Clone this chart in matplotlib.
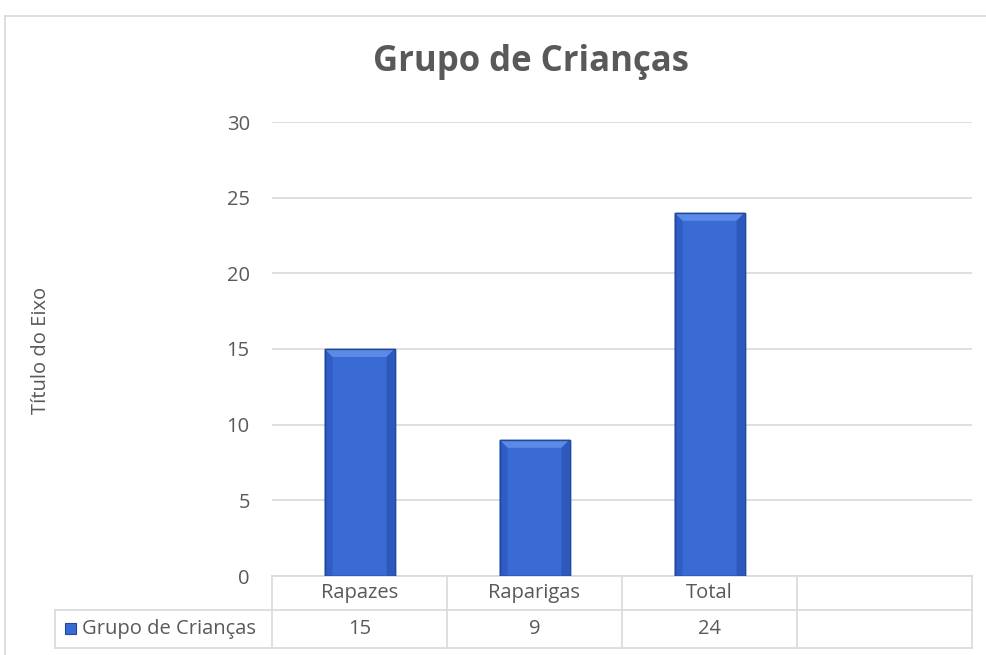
import matplotlib.pyplot as plt
from matplotlib.patches import Rectangle, Polygon
import matplotlib.transforms as mtransforms

categories = ['Rapazes', 'Raparigas', 'Total', '']
values = [15, 9, 24, None]
series_name = 'Grupo de Crianças'
title = 'Grupo de Crianças'
y_label = 'Título do Eixo'
y_ticks = [0, 5, 10, 15, 20, 25, 30]

plt.rcParams['font.family'] = ['Open Sans', 'DejaVu Sans']
text_color = '#595959'
grid_color = '#d9d9d9'
bar_color = '#3a6ad4'
bar_light = '#5d8ae6'
bar_dark = '#2a55b8'
bar_edge = '#1f4a9c'
fs = 14.5

fig = plt.figure(figsize=(9.86, 6.55), dpi=100)
ax = fig.add_axes([272 / 986, 1 - 576 / 655, 700 / 986, 454 / 655])

# chart frame (top and left borders)
fig.add_artist(plt.Line2D([5 / 986, 1], [1 - 16 / 655, 1 - 16 / 655], color=grid_color, lw=1.2))
fig.add_artist(plt.Line2D([5 / 986, 5 / 986], [0, 1 - 16 / 655], color=grid_color, lw=1.2))

ax.set_xlim(-0.5, len(categories) - 0.5)
ax.set_ylim(0, 30)

xs = list(range(len(categories)))
dx = 8 * len(categories) / 700.0   # bevel depth, ~8 px in data units
dy = 8 * 30 / 454.0
for x, v in zip(xs, values):
    if v is None:
        continue
    bars = ax.bar(x, v, width=0.4, color=bar_color, edgecolor=bar_edge, linewidth=1.0, zorder=3)
    b = bars[0]
    x0, w, h = b.get_x(), b.get_width(), b.get_height()
    # bevel: light top, darker sides
    ax.add_patch(Polygon([(x0, h), (x0 + w, h), (x0 + w - dx, h - dy), (x0 + dx, h - dy)],
                         facecolor=bar_light, edgecolor='none', zorder=4))
    ax.add_patch(Polygon([(x0, 0), (x0, h), (x0 + dx, h - dy), (x0 + dx, 0)],
                         facecolor=bar_dark, edgecolor='none', zorder=4, alpha=0.6))
    ax.add_patch(Polygon([(x0 + w, 0), (x0 + w, h), (x0 + w - dx, h - dy), (x0 + w - dx, 0)],
                         facecolor=bar_dark, edgecolor='none', zorder=4, alpha=0.8))
    ax.add_patch(Rectangle((x0, 0), w, h, facecolor='none', edgecolor=bar_edge, lw=1.0, zorder=5))

ax.set_yticks(y_ticks)
ax.set_xticks([])
ax.yaxis.grid(True, color=grid_color, lw=1.2)
ax.set_axisbelow(True)
for s in ax.spines.values():
    s.set_visible(False)
ax.tick_params(axis='y', length=0, pad=16, labelsize=fs, labelcolor=text_color)

fig.text(41 / 986, 1 - 350 / 655, y_label, rotation=90, ha='center', va='center',
         fontsize=fs, color=text_color)
fig.text(531 / 986, 1 - 62 / 655, title, ha='center', va='center',
         fontsize=25, fontweight='bold', color=text_color)

# data table below the axis
tr = mtransforms.blended_transform_factory(ax.transData, ax.transAxes)
px = len(categories) / 700.0
left_x = -0.5 - (272 - 55) * px
right_x = len(categories) - 0.5
y_top = 0.0
y_mid = -(610 - 576) / 454
y_bot = -(648 - 576) / 454
line_kw = dict(color=grid_color, lw=1.2, transform=tr, clip_on=False)

ax.plot([-0.5, right_x], [y_top, y_top], **line_kw)
ax.plot([left_x, right_x], [y_mid, y_mid], **line_kw)
ax.plot([left_x, right_x], [y_bot, y_bot], **line_kw)
ax.plot([left_x, left_x], [y_mid, y_bot], **line_kw)
for i in range(len(categories) + 1):
    ax.plot([i - 0.5, i - 0.5], [y_top, y_bot], **line_kw)

for x, c, v in zip(xs, categories, values):
    ax.text(x, (y_top + y_mid) / 2, c, transform=tr, ha='center', va='center',
            fontsize=fs, color=text_color)
    if v is not None:
        ax.text(x, (y_mid + y_bot) / 2, str(v), transform=tr, ha='center', va='center',
                fontsize=fs, color=text_color)

ax.add_patch(Rectangle((left_x + 10 * px, (y_mid + y_bot) / 2 - 0.011), 11 * px, 0.024,
                       transform=tr, clip_on=False, facecolor=bar_color, edgecolor=bar_edge, lw=0.8))
ax.text(left_x + 27 * px, (y_mid + y_bot) / 2, series_name, transform=tr, ha='left', va='center',
        fontsize=fs, color=text_color)

fig.savefig('out.png', dpi=100)
